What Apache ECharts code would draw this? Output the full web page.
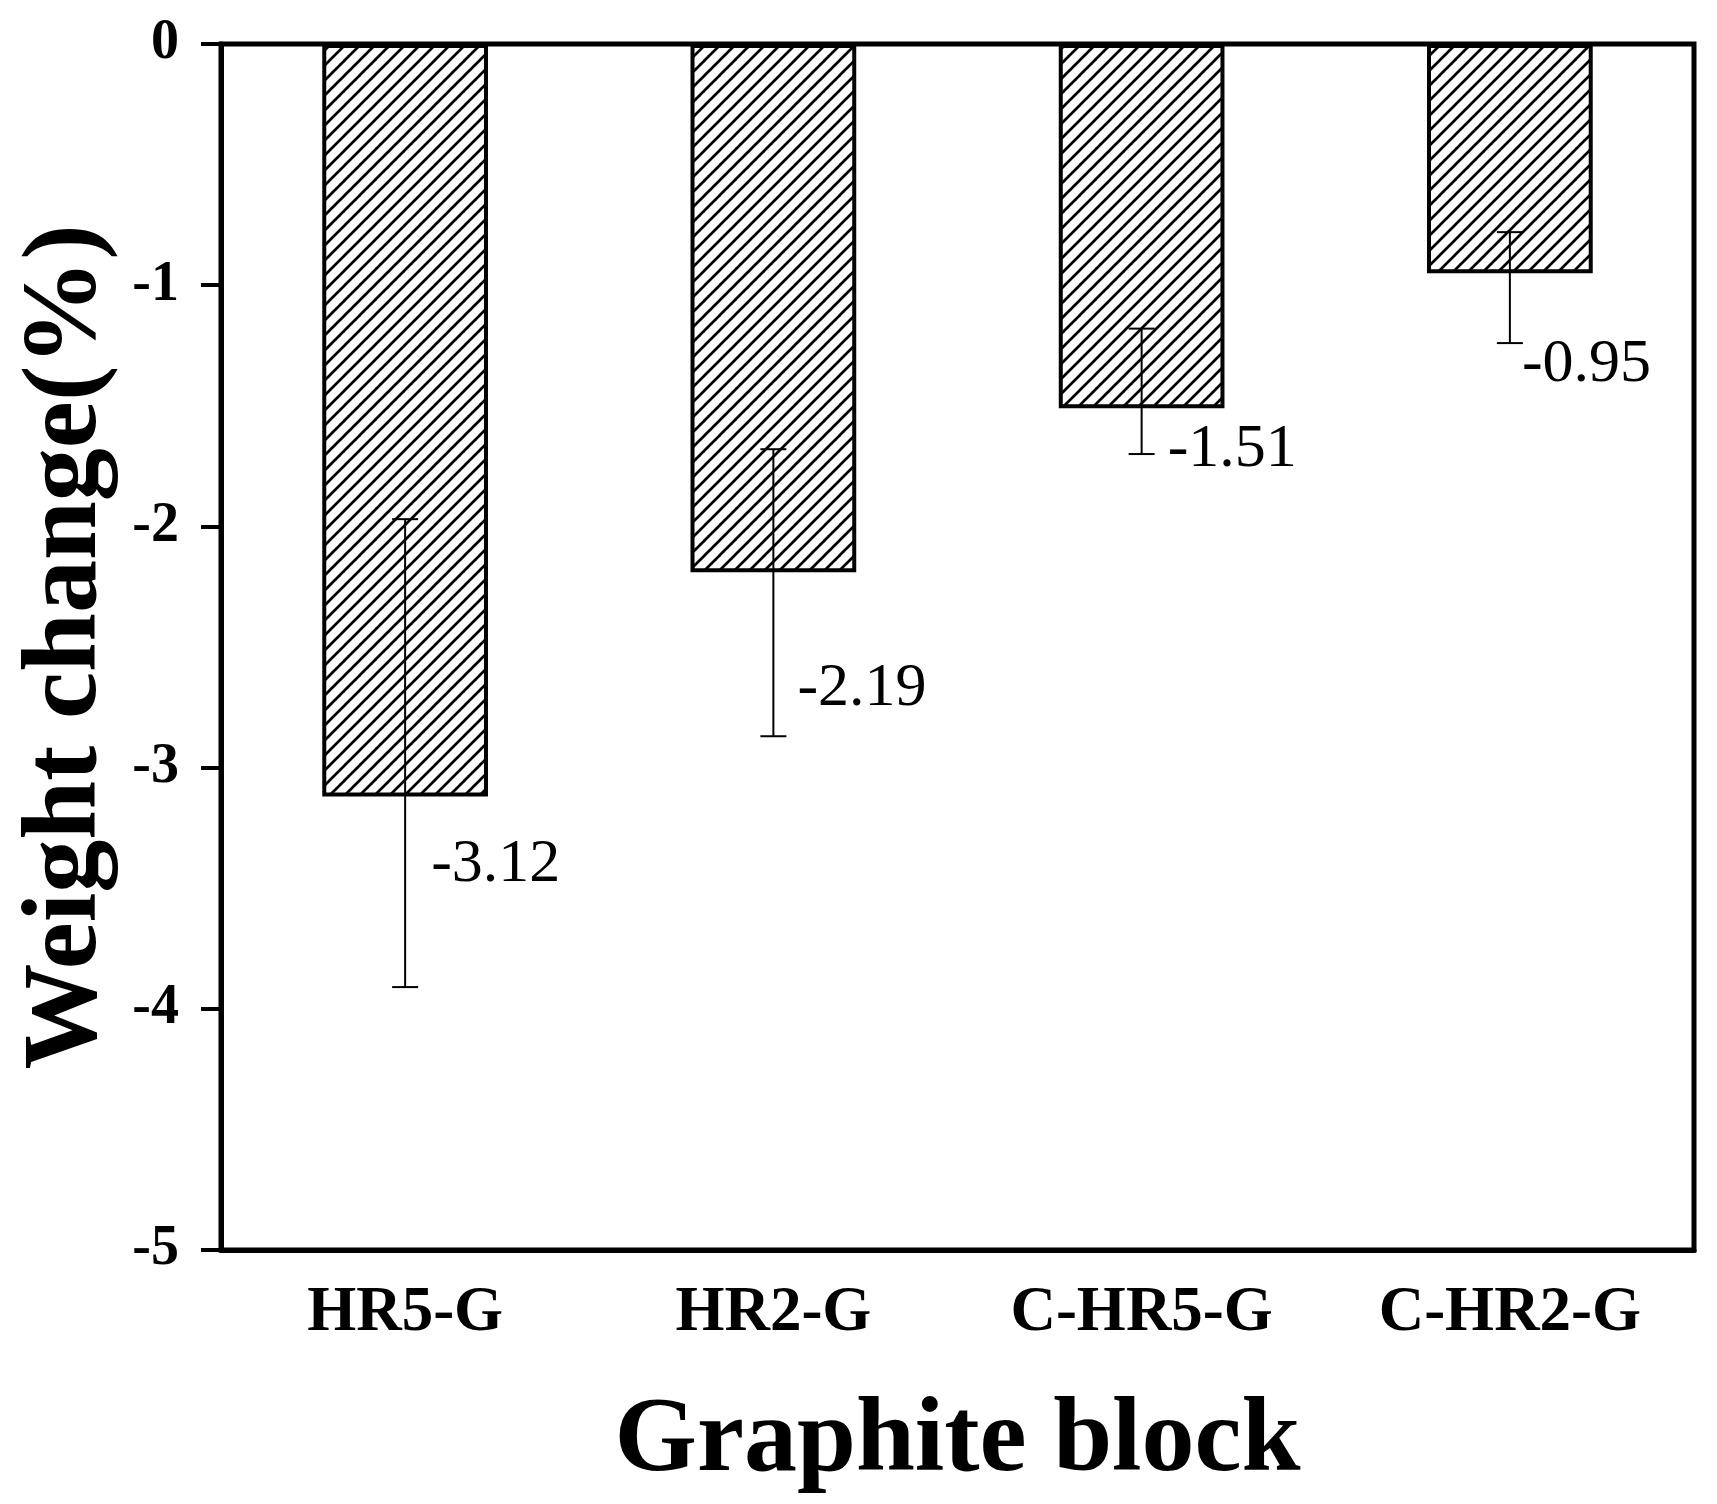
<!DOCTYPE html>
<html>
<head>
<meta charset="utf-8">
<script src="https://cdn.jsdelivr.net/npm/echarts@6/dist/echarts.min.js"></script>
<style>
  html, body { margin: 0; padding: 0; background: #fff; }
  #chart { width: 1717px; height: 1504px; }
</style>
</head>
<body>
<div id="chart"></div>
<script>
  // 数据
  const categories = ['HR5-G', 'HR2-G', 'C-HR5-G', 'C-HR2-G']
  const weightChange = [-3.12, -2.19, -1.51, -0.95]
  const errUpper = [-1.97, -1.68, -1.18, -0.78]
  const errLower = [-3.91, -2.87, -1.70, -1.24]

  // 数值标签相对柱端的偏移 (px)
  const labelShift = [[26, 68], [24, 116], [26, 42], [12, 92]]

  const FONT = '"Liberation Serif", "DejaVu Serif", serif'

  // 斜线填充
  function hatch() {
    const s = 15
    const c = document.createElement('canvas')
    c.width = s
    c.height = s
    const ctx = c.getContext('2d')
    ctx.fillStyle = '#fff'
    ctx.fillRect(0, 0, s, s)
    ctx.strokeStyle = '#000'
    ctx.lineWidth = 2.7
    ctx.beginPath()
    ctx.moveTo(-2, s + 2); ctx.lineTo(s + 2, -2)
    ctx.moveTo(-s - 2, s + 2); ctx.lineTo(2, -2)
    ctx.moveTo(s - 2, s + 2); ctx.lineTo(2 * s + 2, -2)
    ctx.stroke()
    return c
  }

  const chart = echarts.init(document.getElementById('chart'))

  const errData = categories.map((name, i) => [i, errUpper[i], errLower[i], weightChange[i]])

  chart.setOption({
    animation: false,
    backgroundColor: '#fff',
    grid: {
      left: 221,
      right: 23,
      top: 44,
      bottom: 254,
      show: true,
      borderColor: '#000',
      borderWidth: 5,
      backgroundColor: 'transparent'
    },
    xAxis: {
      type: 'category',
      data: categories,
      name: 'Graphite block',
      nameLocation: 'middle',
      nameGap: 140,
      nameTextStyle: { fontFamily: FONT, fontWeight: 'bold', fontSize: 106, color: '#000' },
      axisLine: { onZero: false, lineStyle: { color: '#000', width: 5 } },
      axisTick: { alignWithLabel: true, length: 22, lineStyle: { color: '#000', width: 4 } },
      axisLabel: { fontFamily: FONT, fontWeight: 'bold', fontSize: 63, color: '#000', margin: 32 },
      splitLine: { show: false }
    },
    yAxis: {
      type: 'value',
      min: -5,
      max: 0,
      interval: 1,
      name: 'Weight change(%)',
      nameLocation: 'middle',
      nameGap: 100,
      nameTextStyle: { fontFamily: FONT, fontWeight: 'bold', fontSize: 106, color: '#000' },
      axisLine: { show: true, lineStyle: { color: '#000', width: 5 } },
      axisTick: { show: true, length: 20, lineStyle: { color: '#000', width: 4 } },
      axisLabel: { fontFamily: FONT, fontWeight: 'bold', fontSize: 56, color: '#000', margin: 42 },
      splitLine: { show: false }
    },
    series: [
      {
        type: 'bar',
        data: weightChange,
        barWidth: '45%',
        itemStyle: {
          color: { image: hatch(), repeat: 'repeat' },
          borderColor: '#000',
          borderWidth: 4
        },
        z: 2
      },
      {
        type: 'custom',
        data: errData,
        encode: { x: 0, y: [1, 2] },
        z: 5,
        renderItem(params, api) {
          const i = api.value(0)
          const top = api.coord([i, api.value(1)])
          const bot = api.coord([i, api.value(2)])
          const end = api.coord([i, api.value(3)])
          const cap = 13
          const ls = { stroke: '#000', lineWidth: 2 }
          const sh = labelShift[params.dataIndex]
          return {
            type: 'group',
            children: [
              { type: 'line', shape: { x1: top[0], y1: top[1], x2: bot[0], y2: bot[1] }, style: ls },
              { type: 'line', shape: { x1: top[0] - cap, y1: top[1], x2: top[0] + cap, y2: top[1] }, style: ls },
              { type: 'line', shape: { x1: bot[0] - cap, y1: bot[1], x2: bot[0] + cap, y2: bot[1] }, style: ls },
              {
                type: 'text',
                x: end[0] + sh[0],
                y: end[1] + sh[1],
                style: {
                  text: api.value(3).toFixed(2),
                  fontFamily: FONT,
                  fontSize: 62,
                  fill: '#000',
                  align: 'left',
                  verticalAlign: 'middle'
                }
              }
            ]
          }
        }
      }
    ]
  })
</script>
</body>
</html>
